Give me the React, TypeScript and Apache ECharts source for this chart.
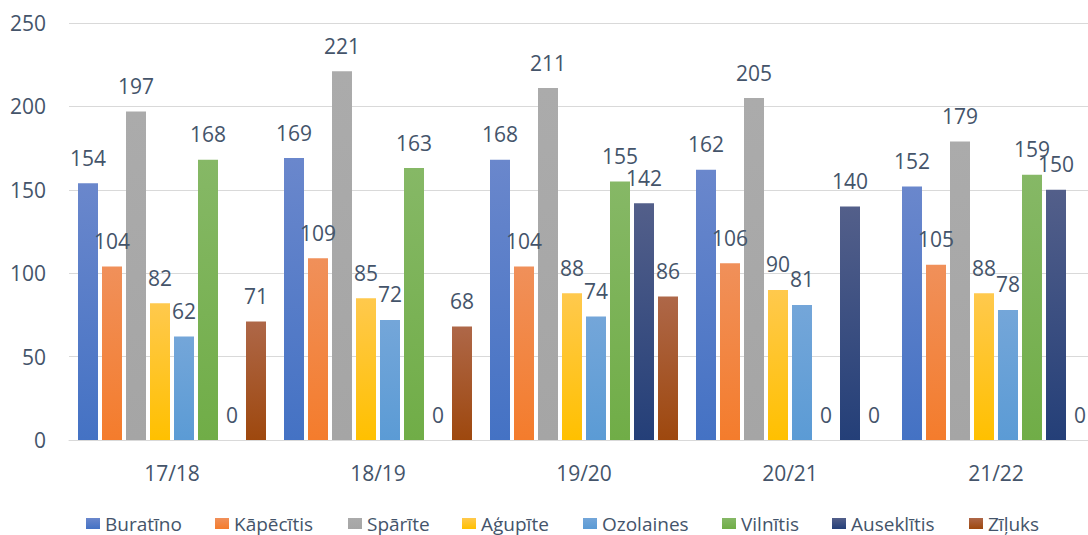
import React, { useEffect, useRef } from "react";
import * as echarts from "echarts";

const categories = ["17/18", "18/19", "19/20", "20/21", "21/22"];
const seriesNames = ["Buratīno", "Kāpēcītis", "Spārīte", "Aģupīte", "Ozolaines", "Vilnītis", "Auseklītis", "Zīļuks"];
const buratino = [154, 169, 168, 162, 152];
const kapecitis = [104, 109, 104, 106, 105];
const sparite = [197, 221, 211, 205, 179];
const agupite = [82, 85, 88, 90, 88];
const ozolaines = [62, 72, 74, 81, 78];
const vilnitis = [168, 163, 155, 0, 159];
const auseklitis = [0, 0, 142, 140, 150];
const ziluks = [71, 68, 86, 0, 0];
const seriesValues = [buratino, kapecitis, sparite, agupite, ozolaines, vilnitis, auseklitis, ziluks];

const topColors = ["#6a87cc", "#f0905a", "#ababab", "#ffc94d", "#74a6d9", "#86b866", "#535f8a", "#ae6748"];
const bottomColors = ["#4472c4", "#f47c2c", "#a5a5a5", "#ffc000", "#5b9bd5", "#70ad47", "#243f78", "#9e480e"];
const legendLefts = [86, 215, 348, 462, 583, 722, 832, 969];

const FONT = "'Open Sans', 'Noto Sans', sans-serif";
const TEXT = "#44546a";

export default function App() {
  const ref = useRef<HTMLDivElement>(null);
  useEffect(() => {
    if (!ref.current) return;
    const chart = echarts.init(ref.current, null, { renderer: "svg" });
    chart.setOption({
      animation: false,
      backgroundColor: "#ffffff",
      grid: { left: 69, top: 23, width: 1030, height: 417, containLabel: false },
      legend: seriesNames.map((name, i) => ({
        left: legendLefts[i],
        top: 514,
        itemWidth: 14,
        itemHeight: 11,
        padding: 0,
        icon: "rect",
        textStyle: { fontFamily: FONT, fontSize: 19, color: TEXT, lineHeight: 19 },
        data: [name],
      })),
      xAxis: {
        type: "category",
        data: categories,
        axisLine: { lineStyle: { color: "#d9d9d9", width: 1 } },
        axisTick: { show: false },
        axisLabel: { fontFamily: FONT, fontSize: 21, color: TEXT, margin: 22 },
      },
      yAxis: {
        type: "value",
        min: 0,
        max: 250,
        interval: 50,
        axisLine: { show: false },
        axisTick: { show: false },
        splitLine: { lineStyle: { color: "#d9d9d9", width: 1 } },
        axisLabel: { fontFamily: FONT, fontSize: 21, color: TEXT, margin: 23 },
      },
      series: seriesNames.map((name, i) => ({
        name,
        type: "bar",
        barWidth: 20,
        barGap: "20%",
        data: seriesValues[i],
        itemStyle: {
          color: new echarts.graphic.LinearGradient(0, 0, 0, 1, [
            { offset: 0, color: topColors[i] },
            { offset: 1, color: bottomColors[i] },
          ]),
        },
        label: {
          show: true,
          position: "top",
          distance: 15,
          fontFamily: FONT,
          fontSize: 21,
          color: TEXT,
        },
      })),
    });
    return () => chart.dispose();
  }, []);
  return (
    <div style={{ width: 1088, height: 535, position: "absolute", left: 0, top: 0, overflow: "hidden" }}>
      <div ref={ref} style={{ width: 1110, height: 535 }} />
    </div>
  );
}
